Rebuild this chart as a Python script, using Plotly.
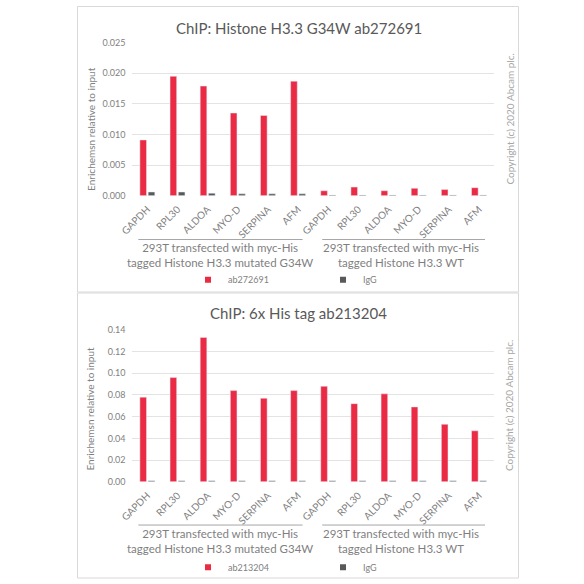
import plotly.graph_objects as go

genes = ["GAPDH", "RPL30", "ALDOA", "MYO-D", "SERPINA", "AFM"]
tick_labels = genes + genes
positions = list(range(len(tick_labels)))

top_title = "ChIP: Histone H3.3 G34W ab272691"
bottom_title = "ChIP: 6x His tag ab213204"
top_antibody = "ab272691"
bottom_antibody = "ab213204"
control_name = "IgG"

top_antibody_values = [0.0091, 0.0195, 0.0179, 0.0135, 0.0131, 0.0187,
                       0.0008, 0.0014, 0.0008, 0.0012, 0.0010, 0.0013]
top_igg_values = [0.0006, 0.0006, 0.0004, 0.0003, 0.0003, 0.0003,
                  0.0001, 0.0001, 0.0001, 0.0001, 0.0001, 0.0001]
bottom_antibody_values = [0.078, 0.096, 0.133, 0.084, 0.077, 0.084,
                          0.088, 0.072, 0.081, 0.069, 0.053, 0.047]
bottom_igg_values = [0.001, 0.001, 0.001, 0.001, 0.001, 0.001,
                     0.001, 0.001, 0.001, 0.001, 0.001, 0.001]

group_labels = ["293T transfected with myc-His<br>tagged Histone H3.3 mutated G34W",
                "293T transfected with myc-His<br>tagged Histone H3.3 WT"]
group_spans = [(-0.3, 5.15), (5.8, 11.2)]
group_centers = [2.42, 8.4]

y_title = "Enrichemsn relative to input"
copyright_text = "Copyright (c) 2020 Abcam plc."

RED = "#EB2A44"
GREY = "#595959"
FONT = "Lato"
W = H = 584


def py(pix):
    return 1 - pix / H


def px(pix):
    return pix / W


fig = go.Figure()

fig.add_trace(go.Bar(x=positions, y=top_antibody_values, marker_color=RED,
                     xaxis="x", yaxis="y", showlegend=False, offsetgroup="a"))
fig.add_trace(go.Bar(x=positions, y=top_igg_values, marker_color=GREY,
                     xaxis="x", yaxis="y", showlegend=False, offsetgroup="b"))
fig.add_trace(go.Bar(x=positions, y=bottom_antibody_values, marker_color=RED,
                     xaxis="x2", yaxis="y2", showlegend=False, offsetgroup="a"))
fig.add_trace(go.Bar(x=positions, y=bottom_igg_values, marker_color=GREY,
                     xaxis="x2", yaxis="y2", showlegend=False, offsetgroup="b"))

for name, col, leg, xa, ya in [(top_antibody, RED, "legend", "x", "y"),
                               (control_name, GREY, "legend", "x", "y"),
                               (bottom_antibody, RED, "legend2", "x2", "y2"),
                               (control_name, GREY, "legend2", "x2", "y2")]:
    fig.add_trace(go.Scatter(x=[None], y=[None], mode="markers", name=name,
                             marker=dict(symbol="square", size=6, color=col),
                             legend=leg, xaxis=xa, yaxis=ya))

xdom = [px(122), px(492)]
axis_common = dict(
    range=[-0.5, 11.5], domain=xdom, tickmode="array", tickvals=positions,
    ticktext=tick_labels, tickangle=-45, showgrid=False, zeroline=False,
    showline=False, tickfont=dict(family=FONT, size=10, color="#7F7F7F"),
    ticks="outside", ticklen=3, tickcolor="rgba(0,0,0,0)", fixedrange=True,
)
yaxis_common = dict(
    showgrid=True, gridcolor="#E3E3E3", gridwidth=1, zeroline=False, showline=False,
    tickfont=dict(family=FONT, size=9, color="#7F7F7F"),
    ticks="outside", ticklen=4, tickcolor="rgba(0,0,0,0)", fixedrange=True,
)

legend_common = dict(orientation="h", xanchor="left", yanchor="middle",
                     font=dict(family=FONT, size=9, color="#7F7F7F"),
                     itemsizing="trace", entrywidth=90, bgcolor="rgba(0,0,0,0)",
                     tracegroupgap=0)

fig.update_layout(
    width=W, height=H, margin=dict(l=0, r=0, t=0, b=0),
    paper_bgcolor="white", plot_bgcolor="white",
    barmode="group", bargap=0.45, bargroupgap=0.2,
    xaxis=dict(anchor="y", **axis_common),
    xaxis2=dict(anchor="y2", **axis_common),
    yaxis=dict(anchor="x", domain=[py(193.3), py(37.3)], range=[0, 0.025],
               dtick=0.005, tickformat=".3f", **yaxis_common),
    yaxis2=dict(anchor="x2", domain=[py(485), py(330)], range=[0, 0.14],
                dtick=0.02, tickformat=".2f", **yaxis_common),
    legend=dict(x=px(179), y=py(279), **legend_common),
    legend2=dict(x=px(179), y=py(572), **legend_common),
)

shapes = []
shapes.append(dict(type="rect", xref="paper", yref="paper", x0=px(66), x1=px(517),
                   y0=py(291.5), y1=py(0.5), line=dict(color="#D9D9D9", width=1)))
shapes.append(dict(type="rect", xref="paper", yref="paper", x0=px(66), x1=px(517),
                   y0=py(583), y1=py(292.5), line=dict(color="#D9D9D9", width=1)))
annotations = []
panels = [("x", 238, 253.5, 22, 125, 115, top_title),
          ("x2", 529, 545.5, 313, 410, 407, bottom_title)]
for xref, line_y, text_y, title_y, ytitle_y, copy_y, title in panels:
    for (a, b), c, lab in zip(group_spans, group_centers, group_labels):
        shapes.append(dict(type="line", xref=xref, yref="paper", x0=a, x1=b,
                           y0=py(line_y), y1=py(line_y),
                           line=dict(color="#A6A6A6", width=1)))
        annotations.append(dict(x=c, xref=xref, y=py(text_y), yref="paper",
                                text=lab, showarrow=False, xanchor="center",
                                yanchor="middle",
                                font=dict(family=FONT, size=11.5, color="#7F7F7F")))
    annotations.append(dict(x=0.5, xref="paper", y=py(title_y), yref="paper",
                            text=title, showarrow=False, xanchor="center", yanchor="middle",
                            font=dict(family=FONT, size=15, color="#595959")))
    annotations.append(dict(x=px(79), xref="paper", y=py(ytitle_y), yref="paper",
                            text=y_title, showarrow=False, textangle=-90,
                            xanchor="center", yanchor="middle",
                            font=dict(family=FONT, size=10, color="#7F7F7F")))
    annotations.append(dict(x=px(508), xref="paper", y=py(copy_y), yref="paper",
                            text=copyright_text, showarrow=False, textangle=-90,
                            xanchor="center", yanchor="middle",
                            font=dict(family=FONT, size=10, color="#A6A6A6")))

fig.update_layout(shapes=shapes, annotations=annotations)
fig.write_html("out.html", config={"displayModeBar": False},
               post_script="document.body.style.margin='0';document.body.style.overflow='hidden';")
